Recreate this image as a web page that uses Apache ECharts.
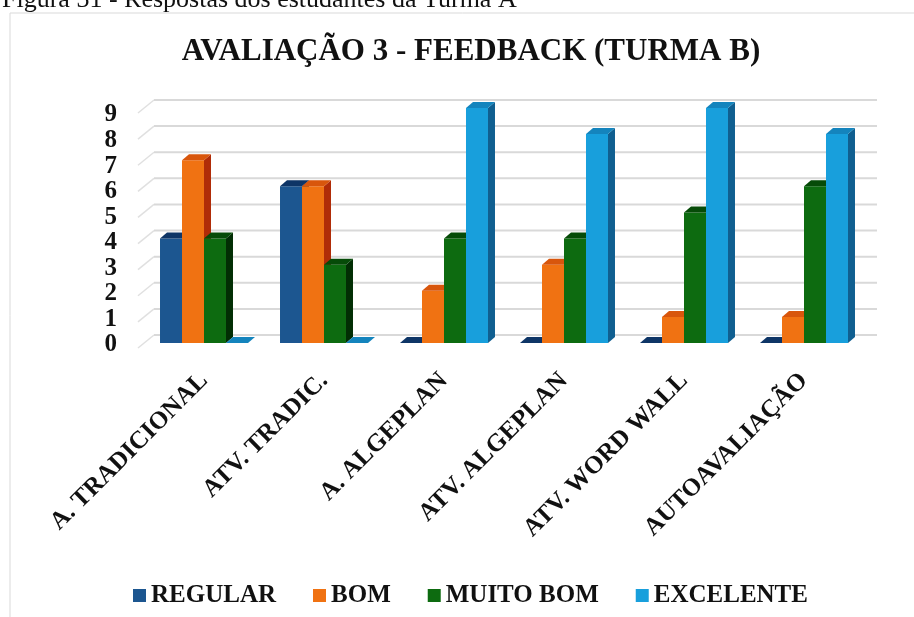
<!DOCTYPE html>
<html>
<head>
<meta charset="utf-8">
<script src="https://cdn.jsdelivr.net/npm/echarts@6/dist/echarts.min.js"></script>
<style>
  html, body { margin: 0; padding: 0; background: #ffffff; }
  #chart { width: 914px; height: 617px; }
</style>
</head>
<body>
<div id="chart"></div>
<script>
// Categories and counts per rating
const categories = ['A. TRADICIONAL', 'ATV. TRADIC.', 'A. ALGEPLAN', 'ATV. ALGEPLAN', 'ATV. WORD WALL', 'AUTOAVALIAÇÃO'];
const regular   = [4, 6, 0, 0, 0, 0];
const bom       = [7, 6, 2, 3, 1, 1];
const muitoBom  = [4, 3, 4, 4, 5, 6];
const excelente = [0, 0, 9, 8, 9, 8];
const yTicks    = [0, 1, 2, 3, 4, 5, 6, 7, 8, 9];
const seriesNames = ['REGULAR', 'BOM', 'MUITO BOM', 'EXCELENTE'];

const SERIF = "'Liberation Serif', 'Times New Roman', serif";

// front / top / side face colours for the extruded bars
const palette = [
  { front: '#1c5690', top: '#0e3566', side: '#0a2a52' },
  { front: '#f07212', top: '#d8560c', side: '#b02c08' },
  { front: '#0d6b10', top: '#064b08', side: '#022e04' },
  { front: '#189fdc', top: '#1484bd', side: '#105f90' }
];

// depth of the bars and of the back wall
const BAR_DX = 7, BAR_DY = 6;
const WALL_DX = 10, WALL_DY = 8;

function barRenderer(k) {
  const c = palette[k];
  return function (params, api) {
    const idx = api.value(0);
    const v = api.value(1);
    const top = api.coord([idx, v]);
    const base = api.coord([idx, 0]);
    const band = api.size([1, 0])[0];
    const w = band * 0.1833;
    const x0 = top[0] - 2 * w + k * w;
    const x1 = x0 + w;
    const yT = top[1], yB = base[1];
    const children = [];
    if (yB - yT > 0.5) {
      children.push({
        type: 'rect',
        shape: { x: x0, y: yT, width: w, height: yB - yT },
        style: { fill: c.front }
      });
      children.push({
        type: 'polygon',
        shape: { points: [[x1, yT], [x1 + BAR_DX, yT - BAR_DY], [x1 + BAR_DX, yB - BAR_DY], [x1, yB]] },
        style: { fill: c.side }
      });
    }
    children.push({
      type: 'polygon',
      shape: { points: [[x0, yT], [x1, yT], [x1 + BAR_DX, yT - BAR_DY], [x0 + BAR_DX, yT - BAR_DY]] },
      style: { fill: c.top }
    });
    return { type: 'group', children: children };
  };
}

// back-wall gridlines with a slanted floor-side segment on the left
function gridRenderer(params, api) {
  const v = api.value(1);
  const p = api.coord([0, v]);
  const cs = params.coordSys;
  const xL = cs.x;
  const xR = cs.x + cs.width;
  const yb = p[1] - WALL_DY;
  return {
    type: 'group',
    children: [
      {
        type: 'line',
        shape: { x1: xL - 6, y1: yb + 13, x2: xL + WALL_DX, y2: yb },
        style: { stroke: '#e0e0e0', lineWidth: 1.5 }
      },
      {
        type: 'line',
        shape: { x1: xL + WALL_DX, y1: yb, x2: xR + 13, y2: yb },
        style: { stroke: '#d9d9d9', lineWidth: 2 }
      }
    ]
  };
}

const valueSets = [regular, bom, muitoBom, excelente];

const series = [{
  name: 'grid',
  type: 'custom',
  renderItem: gridRenderer,
  data: yTicks.map(t => [0, t]),
  encode: { x: 0, y: 1 },
  clip: false,
  silent: true,
  z: 1
}];

valueSets.forEach((vals, k) => {
  series.push({
    name: seriesNames[k],
    type: 'custom',
    renderItem: barRenderer(k),
    data: vals.map((v, i) => [i, v]),
    encode: { x: 0, y: 1 },
    itemStyle: { color: palette[k].front },
    clip: false,
    z: 2
  });
});

const labelStyle = { fontFamily: SERIF, fontWeight: 'bold', fontSize: 25, color: '#111111' };

const chart = echarts.init(document.getElementById('chart'), null, { renderer: 'canvas' });
chart.setOption({
  animation: false,
  backgroundColor: '#ffffff',
  title: {
    text: 'AVALIAÇÃO 3 - FEEDBACK (TURMA B)',
    left: 466,
    top: 31,
    textAlign: 'center',
    textStyle: { fontFamily: SERIF, fontWeight: 'bold', fontSize: 31, color: '#111111' }
  },
  graphic: [
    {
      type: 'text',
      left: 2,
      top: -13,
      style: { text: 'Figura 31 - Respostas dos estudantes da Turma A', font: '26px ' + SERIF, fill: '#111111' }
    },
    {
      type: 'rect',
      shape: { x: 10, y: 13, width: 940, height: 640 },
      style: { fill: 'none', stroke: '#d9d9d9', lineWidth: 1 },
      silent: true,
      z: -1
    }
  ],
  legend: {
    data: seriesNames,
    left: 128,
    top: 578,
    icon: 'rect',
    itemWidth: 13,
    itemHeight: 13,
    itemGap: 37,
    textStyle: labelStyle
  },
  // plotting grid, plus a second grid that carries the value labels on the wall edge
  grid: [
    { left: 144, right: 50, top: 108, bottom: 274, containLabel: false },
    { left: 144, right: 50, top: 115, bottom: 272, containLabel: false }
  ],
  xAxis: [
    {
      type: 'category',
      data: categories,
      gridIndex: 0,
      axisLine: { show: false },
      axisTick: { show: false },
      splitLine: { show: false },
      axisLabel: Object.assign({ rotate: 45, margin: 34, interval: 0 }, labelStyle)
    },
    {
      type: 'category',
      data: categories,
      gridIndex: 1,
      show: false
    }
  ],
  yAxis: [
    {
      type: 'value',
      gridIndex: 0,
      min: 0,
      max: 9,
      interval: 1,
      axisLine: { show: false },
      axisTick: { show: false },
      splitLine: { show: false },
      axisLabel: { show: false }
    },
    {
      type: 'value',
      gridIndex: 1,
      min: 0,
      max: 9,
      interval: 1,
      axisLine: { show: false },
      axisTick: { show: false },
      splitLine: { show: false },
      axisLabel: Object.assign({ margin: 27 }, labelStyle)
    }
  ],
  series: series
});
</script>
</body>
</html>
